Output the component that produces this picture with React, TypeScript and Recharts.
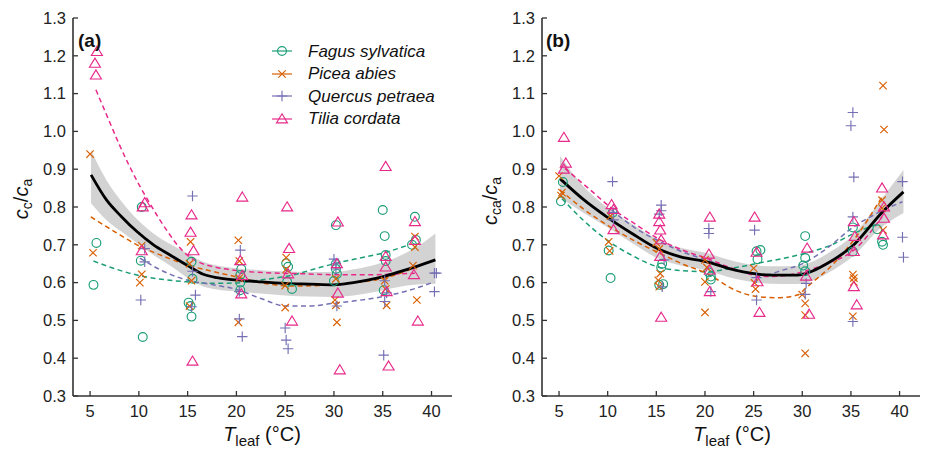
import React from 'react';
import { ComposedChart, XAxis, YAxis, Scatter, Line, Area } from 'recharts';

// ---------- ticks ----------
const xTicks = [5, 10, 15, 20, 25, 30, 35, 40];
const yTicks = [0.3, 0.4, 0.5, 0.6, 0.7, 0.8, 0.9, 1.0, 1.1, 1.2, 1.3];
const xDomain = [3.25, 42.1];
const yDomain = [0.3, 1.3];

// ---------- species ----------
const speciesNames = ['Fagus sylvatica', 'Picea abies', 'Quercus petraea', 'Tilia cordata'];
const speciesColors = ['#1b9e77', '#d95f02', '#7570b3', '#e7298a'];

// ---------- panel (a) observations: [Tleaf, cc/ca] ----------
const fagusA = [
  [5.65, 0.705], [5.35, 0.594],
  [10.3, 0.8], [10.2, 0.658], [10.4, 0.456],
  [15.4, 0.655], [15.5, 0.61], [15.1, 0.547], [15.3, 0.538], [15.4, 0.51],
  [20.5, 0.636], [20.4, 0.62], [20.4, 0.6], [20.4, 0.58],
  [25.1, 0.651], [25.3, 0.642], [25.2, 0.602], [25.7, 0.583],
  [30.2, 0.752], [30.2, 0.65], [30.2, 0.636], [30.3, 0.623], [30.0, 0.604],
  [35.0, 0.792], [35.2, 0.723], [35.3, 0.673], [35.3, 0.657], [35.1, 0.58],
  [38.3, 0.774], [38.0, 0.7], [38.4, 0.713],
];
const piceaA = [
  [5.0, 0.94], [5.3, 0.679],
  [10.3, 0.698], [10.3, 0.622], [10.1, 0.6],
  [15.3, 0.708], [15.2, 0.65], [15.4, 0.605], [15.2, 0.538],
  [20.2, 0.712], [20.3, 0.657], [20.3, 0.612], [20.2, 0.495],
  [25.1, 0.666], [25.1, 0.635], [25.0, 0.592], [25.0, 0.534],
  [30.2, 0.61], [30.1, 0.554], [30.2, 0.54], [30.3, 0.495],
  [35.2, 0.605], [35.3, 0.583], [35.4, 0.54],
  [38.3, 0.722], [38.3, 0.694], [38.1, 0.645], [38.5, 0.554],
];
const quercusA = [
  [10.2, 0.554], [10.6, 0.655], [10.6, 0.69],
  [15.5, 0.829], [15.8, 0.567], [15.4, 0.536], [15.5, 0.63],
  [20.4, 0.686], [20.3, 0.504], [20.6, 0.457], [20.3, 0.576],
  [25.0, 0.48], [25.1, 0.448], [25.3, 0.425],
  [30.0, 0.662], [30.2, 0.636], [30.3, 0.538], [30.2, 0.65],
  [35.1, 0.408], [35.4, 0.573], [35.2, 0.55], [35.2, 0.605],
  [40.3, 0.625], [40.3, 0.576], [40.5, 0.625],
];
const tiliaA = [
  [5.7, 1.211], [5.5, 1.18], [5.6, 1.149],
  [10.6, 0.811], [10.4, 0.8], [10.3, 0.684],
  [15.4, 0.779], [15.3, 0.733], [15.6, 0.684], [15.5, 0.392],
  [20.6, 0.826], [20.4, 0.658], [20.6, 0.618], [20.5, 0.57],
  [25.2, 0.8], [25.4, 0.69], [25.7, 0.498], [25.3, 0.623],
  [30.4, 0.76], [30.3, 0.65], [30.4, 0.572], [30.6, 0.369],
  [35.3, 0.907], [35.3, 0.669], [35.3, 0.641], [35.6, 0.379], [35.4, 0.576],
  [38.3, 0.761], [38.3, 0.711], [38.2, 0.621], [38.6, 0.498],
];

// ---------- panel (b) observations: [Tleaf, cca/ca] ----------
const fagusB = [
  [5.4, 0.866], [5.2, 0.815],
  [10.5, 0.785], [10.1, 0.685], [10.3, 0.612],
  [15.5, 0.64], [15.3, 0.594], [15.7, 0.596], [15.6, 0.65],
  [20.4, 0.627], [20.6, 0.616], [20.6, 0.608],
  [25.3, 0.683], [25.7, 0.686], [25.4, 0.662],
  [30.3, 0.723], [30.3, 0.665], [30.3, 0.63], [30.1, 0.645],
  [35.2, 0.746], [35.2, 0.682],
  [37.7, 0.741], [38.2, 0.708], [38.3, 0.7],
];
const piceaB = [
  [5.0, 0.882], [5.3, 0.838], [5.2, 0.83],
  [10.3, 0.776], [10.1, 0.708], [10.2, 0.684],
  [15.0, 0.706], [15.3, 0.689], [15.4, 0.624], [15.2, 0.606], [15.3, 0.589],
  [20.0, 0.66], [20.0, 0.602], [20.0, 0.521], [20.2, 0.64],
  [25.0, 0.638], [25.1, 0.599], [25.2, 0.583],
  [30.0, 0.568], [30.3, 0.545], [30.3, 0.514], [30.3, 0.413],
  [35.2, 0.621], [35.3, 0.612], [35.3, 0.602], [35.2, 0.511],
  [38.3, 1.121], [38.4, 1.005], [38.2, 0.797], [38.3, 0.739], [38.2, 0.818],
];
const quercusB = [
  [10.5, 0.867], [10.6, 0.785], [10.6, 0.766],
  [15.5, 0.805], [15.5, 0.79], [15.3, 0.781], [15.6, 0.589], [15.8, 0.66],
  [20.4, 0.743], [20.4, 0.73], [20.6, 0.576],
  [25.1, 0.739], [25.3, 0.554], [25.3, 0.613],
  [30.4, 0.598], [30.3, 0.569],
  [35.2, 1.05], [35.0, 1.015], [35.3, 0.879], [35.2, 0.774], [35.2, 0.497],
  [40.3, 0.867], [40.3, 0.72], [40.4, 0.667],
];
const tiliaB = [
  [5.5, 0.984], [5.7, 0.916], [5.5, 0.9],
  [10.4, 0.806], [10.6, 0.793], [10.6, 0.74],
  [15.3, 0.781], [15.3, 0.761], [15.4, 0.739], [15.5, 0.713], [15.4, 0.669], [15.5, 0.508],
  [20.5, 0.773], [20.4, 0.675], [20.5, 0.633], [20.5, 0.576],
  [25.1, 0.773], [25.3, 0.68], [25.4, 0.602], [25.6, 0.521],
  [30.5, 0.691], [30.4, 0.617], [30.7, 0.516],
  [35.3, 0.761], [35.3, 0.682], [35.3, 0.589], [35.6, 0.541], [35.4, 0.722],
  [38.2, 0.85], [38.4, 0.8], [38.4, 0.77], [38.3, 0.726],
];

// ---------- panel (a) fitted curves ----------
const fitA_T = [5.1, 6.7, 8.2, 9.8, 11.5, 13.2, 15, 16.6, 18, 20, 22.5, 25, 27.5, 30, 32, 34.3, 36.5, 38.5, 40.4];
const fitA_V = [0.885, 0.818, 0.775, 0.735, 0.7, 0.673, 0.645, 0.622, 0.613, 0.607, 0.602, 0.598, 0.596, 0.594, 0.6, 0.611, 0.627, 0.643, 0.66];
const fitA_lo = [0.81, 0.765, 0.735, 0.705, 0.673, 0.645, 0.612, 0.59, 0.582, 0.577, 0.571, 0.566, 0.563, 0.562, 0.566, 0.576, 0.588, 0.595, 0.597];
const fitA_hi = [0.95, 0.87, 0.815, 0.768, 0.73, 0.702, 0.677, 0.655, 0.645, 0.638, 0.633, 0.63, 0.628, 0.628, 0.635, 0.648, 0.668, 0.695, 0.73];

const fagusFitA_T = [5.35, 7.5, 9.8, 12, 14.9, 17.5, 20, 22.5, 25.8, 28, 30.2, 32.5, 35, 37.7];
const fagusFitA_V = [0.657, 0.637, 0.62, 0.61, 0.602, 0.598, 0.599, 0.607, 0.62, 0.636, 0.651, 0.664, 0.678, 0.7];
const piceaFitA_T = [5.07, 7.5, 9.8, 12.5, 14.9, 17.5, 20, 22.4, 25.8, 29.9, 32, 34.3, 36, 38.3];
const piceaFitA_V = [0.774, 0.735, 0.7, 0.67, 0.647, 0.63, 0.615, 0.6, 0.591, 0.594, 0.6, 0.607, 0.618, 0.64];
const quercusFitA_T = [10.1, 12.5, 14.9, 17.5, 20, 22.5, 25.1, 27.5, 29.9, 32.5, 35, 37.5, 40.3];
const quercusFitA_V = [0.665, 0.63, 0.607, 0.595, 0.582, 0.558, 0.538, 0.538, 0.545, 0.553, 0.563, 0.578, 0.602];
const tiliaFitA_T = [5.6, 7, 8, 9, 10, 11, 12, 13, 14, 15, 16, 18, 20, 23, 26, 30, 34, 38.3];
const tiliaFitA_V = [1.11, 1.025, 0.965, 0.91, 0.86, 0.815, 0.772, 0.733, 0.698, 0.672, 0.656, 0.64, 0.632, 0.626, 0.624, 0.621, 0.621, 0.625];

// ---------- panel (b) fitted curves ----------
const fitB_T = [5.1, 7.5, 9.9, 12.5, 15.1, 17.5, 20.2, 23.1, 26.7, 29.5, 31, 32.6, 35.3, 38.1, 40.4];
const fitB_V = [0.875, 0.82, 0.774, 0.73, 0.69, 0.668, 0.655, 0.633, 0.62, 0.62, 0.63, 0.651, 0.7, 0.783, 0.84];
const fitB_lo = [0.825, 0.785, 0.748, 0.705, 0.665, 0.645, 0.632, 0.61, 0.597, 0.596, 0.605, 0.625, 0.672, 0.745, 0.784];
const fitB_hi = [0.935, 0.855, 0.8, 0.755, 0.715, 0.692, 0.678, 0.656, 0.643, 0.644, 0.655, 0.677, 0.728, 0.82, 0.898];

const fagusFitB_T = [5.3, 7.5, 9.9, 12.5, 15.1, 17.5, 20.2, 22.8, 25.4, 28, 30.2, 33, 35.3, 37.9];
const fagusFitB_V = [0.822, 0.765, 0.713, 0.672, 0.642, 0.632, 0.629, 0.638, 0.651, 0.664, 0.677, 0.7, 0.73, 0.757];
const piceaFitB_T = [5.1, 7.5, 10.2, 12.8, 15.4, 17.8, 20.2, 23.1, 25.4, 27.5, 29.5, 30.5, 32.9, 35.3, 38.2];
const piceaFitB_V = [0.845, 0.795, 0.748, 0.71, 0.677, 0.648, 0.624, 0.58, 0.563, 0.56, 0.567, 0.589, 0.642, 0.713, 0.827];
const quercusFitB_T = [10.4, 12.8, 15.4, 17.8, 20.2, 23.1, 26, 28, 30.1, 32.5, 35.3, 37.8, 40.3];
const quercusFitB_V = [0.792, 0.745, 0.708, 0.68, 0.66, 0.633, 0.62, 0.633, 0.651, 0.69, 0.748, 0.785, 0.814];
const tiliaFitB_T = [5.6, 8, 10.4, 13, 15.4, 17.8, 20.2, 23, 26, 28, 30.1, 32.5, 35.3, 38.2];
const tiliaFitB_V = [0.902, 0.85, 0.797, 0.752, 0.713, 0.685, 0.664, 0.636, 0.616, 0.618, 0.629, 0.65, 0.686, 0.774];

// ---------- helpers ----------
const toPts = (arr: number[][]) => arr.map(([x, y]) => ({ x, y }));
const toLine = (T: number[], V: number[]) => T.map((x, i) => ({ x, y: V[i] }));
const toBand = (T: number[], lo: number[], hi: number[]) => T.map((x, i) => ({ x, band: [lo[i], hi[i]] }));

const FONT = '"Liberation Sans", Arial, sans-serif';
const AXIS = '#333333';

const markerFor = (idx: number, color: string) => (props: any) => {
  const { cx, cy } = props;
  if (cx == null || cy == null) return <g />;
  const sw = 1.15;
  if (idx === 0) return <circle cx={cx} cy={cy} r={4.4} fill="none" stroke={color} strokeWidth={sw} />;
  if (idx === 1) {
    const d = 3.7;
    return (
      <path d={`M${cx - d},${cy - d}L${cx + d},${cy + d}M${cx - d},${cy + d}L${cx + d},${cy - d}`} stroke={color} strokeWidth={sw} fill="none" />
    );
  }
  if (idx === 2) {
    const d = 5.2;
    return <path d={`M${cx - d},${cy}L${cx + d},${cy}M${cx},${cy - d}L${cx},${cy + d}`} stroke={color} strokeWidth={sw} fill="none" />;
  }
  const h = 5.2;
  return (
    <path d={`M${cx},${cy - h}L${cx + 5.5},${cy + h * 0.75}L${cx - 5.5},${cy + h * 0.75}Z`} stroke={color} strokeWidth={sw} fill="none" />
  );
};

type PanelProps = {
  left: number;
  width: number;
  marginLeft: number;
  marginRight: number;
  obs: number[][][];
  fits: { T: number[]; V: number[] }[];
  fitT: number[];
  fitV: number[];
  fitLo: number[];
  fitHi: number[];
};

const Panel = ({ left, width, marginLeft, marginRight, obs, fits, fitT, fitV, fitLo, fitHi }: PanelProps) => (
  <div style={{ position: 'absolute', left, top: 0 }}>
    <ComposedChart
      width={width}
      height={449}
      margin={{ top: 18, right: marginRight, bottom: 23, left: marginLeft }}
    >
      <XAxis
        xAxisId="b"
        dataKey="x"
        type="number"
        domain={xDomain}
        ticks={xTicks}
        allowDataOverflow
        height={30}
        tickSize={-5}
        tickMargin={14}
        axisLine={{ stroke: AXIS, strokeWidth: 1.6 }}
        tickLine={{ stroke: AXIS, strokeWidth: 1.3 }}
        tick={{ fill: '#222', fontSize: 16.5, fontFamily: FONT }}
        interval={0}
      />
      <XAxis
        xAxisId="t"
        orientation="top"
        dataKey="x"
        type="number"
        domain={xDomain}
        ticks={xTicks}
        allowDataOverflow
        height={0}
        tickSize={-5}
        tick={false}
        axisLine={{ stroke: AXIS, strokeWidth: 1.6 }}
        tickLine={{ stroke: AXIS, strokeWidth: 1.3 }}
        interval={0}
      />
      <YAxis
        yAxisId="l"
        type="number"
        domain={yDomain}
        ticks={yTicks}
        allowDataOverflow
        width={60}
        tickSize={-5}
        tickMargin={12}
        axisLine={{ stroke: AXIS, strokeWidth: 1.6 }}
        tickLine={{ stroke: AXIS, strokeWidth: 1.3 }}
        tick={{ fill: '#222', fontSize: 16.5, fontFamily: FONT }}
        tickFormatter={(v: number) => v.toFixed(1)}
        interval={0}
      />
      <YAxis
        yAxisId="r"
        orientation="right"
        type="number"
        domain={yDomain}
        ticks={yTicks}
        allowDataOverflow
        width={0}
        tickSize={-5}
        tick={false}
        axisLine={{ stroke: AXIS, strokeWidth: 1.6 }}
        tickLine={{ stroke: AXIS, strokeWidth: 1.3 }}
        interval={0}
      />
      <Area
        xAxisId="b"
        yAxisId="l"
        data={toBand(fitT, fitLo, fitHi)}
        dataKey="band"
        type="monotone"
        stroke="none"
        fill="#d3d3d3"
        fillOpacity={1}
        isAnimationActive={false}
      />
      {obs.map((arr, i) => (
        <Scatter
          key={'s' + i}
          xAxisId="b"
          yAxisId="l"
          data={toPts(arr)}
          dataKey="y"
          shape={markerFor(i, speciesColors[i])}
          isAnimationActive={false}
        />
      ))}
      {fits.map((f, i) => (
        <Line
          key={'f' + i}
          xAxisId="b"
          yAxisId="l"
          data={toLine(f.T, f.V)}
          dataKey="y"
          type="monotone"
          stroke={speciesColors[i]}
          strokeWidth={1.5}
          strokeDasharray="5 3.5"
          dot={false}
          isAnimationActive={false}
        />
      ))}
      <Line
        xAxisId="b"
        yAxisId="l"
        data={toLine(fitT, fitV)}
        dataKey="y"
        type="monotone"
        stroke="#000"
        strokeWidth={2.8}
        dot={false}
        isAnimationActive={false}
      />
    </ComposedChart>
  </div>
);

const LegendIcon = ({ idx }: { idx: number }) => {
  const c = speciesColors[idx];
  const Mk = markerFor(idx, c);
  return (
    <svg width={24} height={16} style={{ display: 'block' }}>
      <line x1={2} y1={8} x2={22} y2={8} stroke={c} strokeWidth={1.2} />
      <Mk cx={12} cy={8} />
    </svg>
  );
};

const txt: React.CSSProperties = { position: 'absolute', fontFamily: FONT, color: '#111', whiteSpace: 'nowrap', lineHeight: 1 };

const YLabel = ({ x, y, sub }: { x: number; y: number; sub: string }) => (
  <div style={{ ...txt, left: x, top: y, fontSize: 20, transform: 'translate(-50%, -50%) rotate(-90deg)' }}>
    <i>c</i>
    <span style={{ fontSize: 14, verticalAlign: -4 }}>{sub}</span>/<i>c</i>
    <span style={{ fontSize: 14, verticalAlign: -4 }}>a</span>
  </div>
);

const XLabel = ({ x }: { x: number }) => (
  <div style={{ ...txt, left: x, top: 436, fontSize: 20, transform: 'translate(-50%, -50%)' }}>
    <i>T</i>
    <span style={{ fontSize: 15, verticalAlign: -5 }}>leaf</span> (°C)
  </div>
);

export default function App() {
  return (
    <div style={{ position: 'absolute', left: 0, top: 0, width: 927, height: 449, background: '#fff', overflow: 'hidden' }}>
      <Panel
        left={0}
        width={463}
        marginLeft={13}
        marginRight={11}
        obs={[fagusA, piceaA, quercusA, tiliaA]}
        fits={[
          { T: fagusFitA_T, V: fagusFitA_V },
          { T: piceaFitA_T, V: piceaFitA_V },
          { T: quercusFitA_T, V: quercusFitA_V },
          { T: tiliaFitA_T, V: tiliaFitA_V },
        ]}
        fitT={fitA_T}
        fitV={fitA_V}
        fitLo={fitA_lo}
        fitHi={fitA_hi}
      />
      <Panel
        left={463}
        width={464}
        marginLeft={19}
        marginRight={7}
        obs={[fagusB, piceaB, quercusB, tiliaB]}
        fits={[
          { T: fagusFitB_T, V: fagusFitB_V },
          { T: piceaFitB_T, V: piceaFitB_V },
          { T: quercusFitB_T, V: quercusFitB_V },
          { T: tiliaFitB_T, V: tiliaFitB_V },
        ]}
        fitT={fitB_T}
        fitV={fitB_V}
        fitLo={fitB_lo}
        fitHi={fitB_hi}
      />
      <div style={{ ...txt, left: 78, top: 31, fontSize: 19, fontWeight: 'bold' }}>(a)</div>
      <div style={{ ...txt, left: 546, top: 31, fontSize: 19, fontWeight: 'bold' }}>(b)</div>
      {speciesNames.map((n, i) => (
        <div key={n} style={{ ...txt, left: 270, top: 42 + i * 22.5, display: 'flex', alignItems: 'center', height: 18 }}>
          <LegendIcon idx={i} />
          <span style={{ fontStyle: 'italic', fontSize: 17, marginLeft: 14 }}>{n}</span>
        </div>
      ))}
      <YLabel x={22} y={199} sub="c" />
      <YLabel x={491} y={201} sub="ca" />
      <XLabel x={262} />
      <XLabel x={732} />
    </div>
  );
}
